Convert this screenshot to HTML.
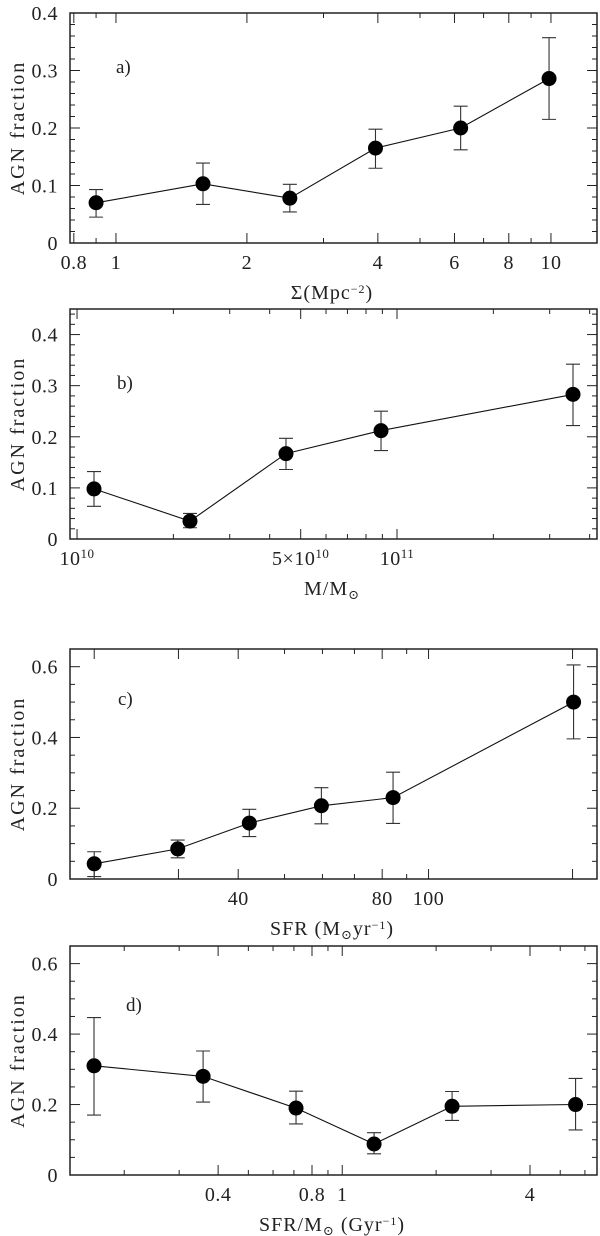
<!DOCTYPE html>
<html><head><meta charset="utf-8">
<style>
html,body{margin:0;padding:0;background:#fff;}
svg{display:block;font-family:"Liberation Serif","DejaVu Serif",serif;}
text{fill:#222;}
</style></head>
<body>
<svg id="chart" width="600" height="1236" viewBox="0 0 600 1236" xmlns="http://www.w3.org/2000/svg"></svg>
<script>
// Panel a data
const aX = [0.9, 1.585, 2.51, 3.95, 6.2, 9.9];
const aY = [0.070, 0.103, 0.078, 0.165, 0.200, 0.286];
const aLo = [0.045, 0.067, 0.054, 0.130, 0.162, 0.215];
const aHi = [0.093, 0.139, 0.102, 0.198, 0.238, 0.357];
const aXTickLabels = ["0.8","1","2","4","6","8","10"];
const aXTickVals = [0.8,1,2,4,6,8,10];
const aYTickLabels = ["0","0.1","0.2","0.3","0.4"];
// Panel b data (log10 of mass)
const bX = [10.053, 10.353, 10.653, 10.95, 11.55];
const bY = [0.098, 0.035, 0.167, 0.212, 0.283];
const bLo = [0.064, 0.022, 0.136, 0.173, 0.222];
const bHi = [0.132, 0.050, 0.197, 0.250, 0.342];
const bYTickLabels = ["0","0.1","0.2","0.3","0.4"];
// Panel c data
const cX = [20, 29.9, 42.2, 59.7, 84.3, 201];
const cY = [0.043, 0.085, 0.158, 0.207, 0.230, 0.500];
const cLo = [0.007, 0.060, 0.120, 0.156, 0.157, 0.396];
const cHi = [0.077, 0.110, 0.197, 0.258, 0.302, 0.605];
const cXTickLabels = ["40","80","100"];
const cXTickVals = [40,80,100];
const cYTickLabels = ["0","0.2","0.4","0.6"];
// Panel d data
const dX = [0.16, 0.358, 0.711, 1.265, 2.25, 5.6];
const dY = [0.310, 0.280, 0.190, 0.088, 0.195, 0.200];
const dLo = [0.170, 0.207, 0.145, 0.060, 0.155, 0.128];
const dHi = [0.447, 0.352, 0.238, 0.120, 0.237, 0.274];
const dXTickLabels = ["0.4","0.8","1","4"];
const dXTickVals = [0.4,0.8,1,4];
const dYTickLabels = ["0","0.2","0.4","0.6"];

const svg = document.getElementById('chart');
const NS = 'http://www.w3.org/2000/svg';
function mk(tag, attrs, parent){
  const e = document.createElementNS(NS, tag);
  for (const k in attrs) e.setAttribute(k, attrs[k]);
  (parent||svg).appendChild(e);
  return e;
}

function panel(o){
  const g = mk('g', {});
  
  
  const L=70, R=597, T=o.top, B=o.bottom;
  const xs = v => L + (o.xlog(v) - o.xmin) / (o.xmax - o.xmin) * (R - L);
  const ys = v => B - (v - 0) / (o.ymax) * (B - T);
  const fr = mk('rect', {x:L, y:T, width:R-L, height:B-T, fill:'none', stroke:'#222', 'stroke-width':1.5}, g);
  
  
  for (let v = 0; v <= o.ymax + 1e-9; v += o.yminor) {
    const vv = Math.round(v*1000)/1000;
    const major = Math.abs(vv/o.ymajor - Math.round(vv/o.ymajor)) < 1e-6;
    const len = major ? 10 : 5;
    const y = ys(vv);
    mk('line', {x1:L, x2:L+len, y1:y, y2:y, stroke:'#222', 'stroke-width':1}, g);
    mk('line', {x1:R, x2:R-len, y1:y, y2:y, stroke:'#222', 'stroke-width':1}, g);
  }
  o.yLabels.forEach(s => {
    const t = mk('text', {x:58, y:ys(parseFloat(s))+7, 'text-anchor':'end', 'font-size':20, 'letter-spacing':'0.5'}, g);
    t.textContent = s;
    
    
  });
  o.xMajor.forEach(v => {
    const x = xs(v);
    if (x < L-0.5 || x > R+0.5) return;
    mk('line', {x1:x, x2:x, y1:B, y2:B-10, stroke:'#222', 'stroke-width':1}, g);
    mk('line', {x1:x, x2:x, y1:T, y2:T+10, stroke:'#222', 'stroke-width':1}, g);
  });
  o.xMinor.forEach(v => {
    const x = xs(v);
    if (x < L-0.5 || x > R+0.5) return;
    mk('line', {x1:x, x2:x, y1:B, y2:B-5, stroke:'#222', 'stroke-width':1}, g);
    mk('line', {x1:x, x2:x, y1:T, y2:T+5, stroke:'#222', 'stroke-width':1}, g);
  });
  o.xLabels.forEach((s, i) => {
    const t = mk('text', {x:xs(o.xLabelVals[i]), y:B+26, 'text-anchor':'middle', 'font-size':20, 'letter-spacing':'0.5'}, g);
    if (typeof s === 'string') t.textContent = s;
    else { t.textContent = s[0]; const sp = mk('tspan', {'font-size':13, dy:-7}, t); sp.textContent = s[1]; }
    
    
  });
  const yt = mk('text', {x:0, y:0, 'text-anchor':'middle', 'font-size':20, transform:`translate(24 ${(T+B)/2}) rotate(-90)`, 'letter-spacing':'2'}, g);
  yt.textContent = 'AGN fraction';
  
  
  const xt = mk('text', {x:332, y:B+56, 'text-anchor':'middle', 'font-size':20, 'letter-spacing':'1'}, g);
  xt.innerHTML = o.xtitle;
  
  
  const pl = mk('text', {x:o.plX, y:o.plY, 'font-size':19}, g);
  pl.textContent = o.id + ')';
  
  
  const pts = o.X.map((v,i) => xs(v).toFixed(1) + ',' + ys(o.Y[i]).toFixed(1)).join(' ');
  const pline = mk('polyline', {points:pts, fill:'none', stroke:'#111', 'stroke-width':1.1}, g);
  
  
  o.X.forEach((v,i) => {
    const x = xs(v);
    const eb = mk('path', {d:`M${x},${ys(o.Lo[i])}V${ys(o.Hi[i])}M${x-7},${ys(o.Lo[i])}H${x+7}M${x-7},${ys(o.Hi[i])}H${x+7}`, stroke:'#333', 'stroke-width':1.1, fill:'none'}, g);
    
    
    const c = mk('circle', {cx:x, cy:ys(o.Y[i]), r:7.5, fill:'#000'}, g);
    
    
  });
}

const log = v => Math.log10(v);
panel({id:'a', top:13, bottom:243, ymax:0.4, ymajor:0.1, yminor:0.02,
  xlog:log, xmin:log(0.784), xmax:log(12.76),
  xMajor:[0.8,1,2,4,6,8,10], xMinor:[0.9,3,5,7,9],
  xLabels:aXTickLabels, xLabelVals:aXTickVals, yLabels:aYTickLabels,
  xtitle:'Σ(Mpc<tspan font-size="12" dy="-6">−2</tspan><tspan dy="6">)</tspan>',
  plX:116, plY:73, X:aX, Y:aY, Lo:aLo, Hi:aHi});
panel({id:'b', top:309, bottom:539, ymax:0.45, ymajor:0.1, yminor:0.02,
  xlog:v=>v, xmin:9.978, xmax:11.625,
  xMajor:[10, 10+log(5), 11], xMinor:[2,3,4,6,7,8,9].map(k=>10+log(k)).concat([2,3,4].map(k=>11+log(k))),
  xLabels:[['10','10'],['5×10','10'],['10','11']], xLabelVals:[10, 10+log(5), 11], yLabels:bYTickLabels,
  xtitle:'M/M<tspan font-size="13" dy="4">⊙</tspan>',
  plX:117, plY:389, X:bX, Y:bY, Lo:bLo, Hi:bHi});
panel({id:'c', top:649, bottom:879, ymax:0.65, ymajor:0.2, yminor:0.05,
  xlog:log, xmin:log(17.8), xmax:log(225),
  xMajor:[20,30,40,80,100,200], xMinor:[50,60,70,90],
  xLabels:cXTickLabels, xLabelVals:cXTickVals, yLabels:cYTickLabels,
  xtitle:'SFR (M<tspan font-size="13" dy="4">⊙</tspan><tspan dy="-4">yr</tspan><tspan font-size="12" dy="-6">−1</tspan><tspan dy="6">)</tspan>',
  plX:118, plY:705, X:cX, Y:cY, Lo:cLo, Hi:cHi});
panel({id:'d', top:946, bottom:1175, ymax:0.65, ymajor:0.2, yminor:0.05,
  xlog:log, xmin:log(0.134), xmax:log(6.56),
  xMajor:[0.4,0.8,1,4], xMinor:[0.2,0.3,0.5,0.6,0.7,0.9,2,3,5,6],
  xLabels:dXTickLabels, xLabelVals:dXTickVals, yLabels:dYTickLabels,
  xtitle:'SFR/M<tspan font-size="13" dy="4">⊙</tspan><tspan dy="-4"> (Gyr</tspan><tspan font-size="12" dy="-6">−1</tspan><tspan dy="6">)</tspan>',
  plX:126, plY:1011, X:dX, Y:dY, Lo:dLo, Hi:dHi});
</script>
</body></html>
